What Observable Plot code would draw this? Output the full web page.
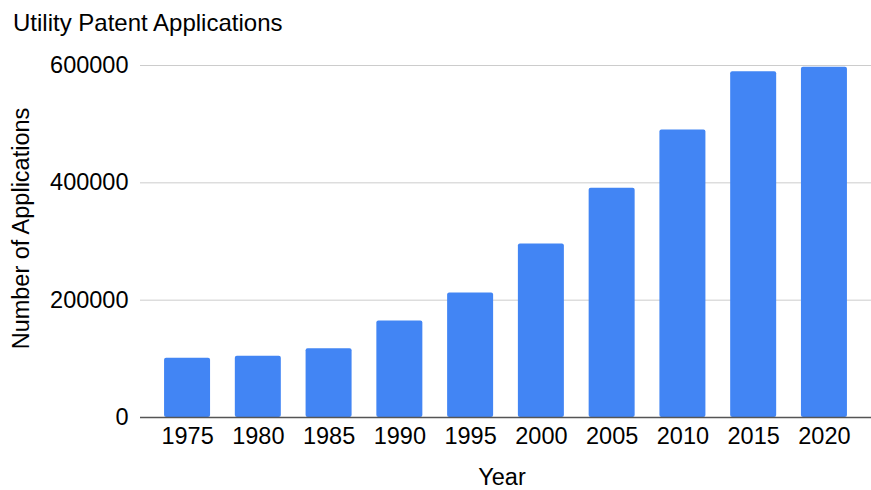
<!DOCTYPE html>
<html>
<head>
<meta charset="utf-8">
<script src="https://cdn.jsdelivr.net/npm/d3@7"></script>
<script src="https://cdn.jsdelivr.net/npm/@observablehq/plot@0.6"></script>
<style>
  body { margin: 0; background: #fff; }
  #wrap { position: relative; width: 871px; height: 490px; font-family: "Liberation Sans", Arial, sans-serif; }
  #title { position: absolute; left: 13px; top: 11px; font-size: 24px; line-height: 24px; color: #000; white-space: nowrap; }
</style>
</head>
<body>
<div id="wrap">
  <div id="title">Utility Patent Applications</div>
  <div id="chart"></div>
</div>
<script>
const years = ["1975", "1980", "1985", "1990", "1995", "2000", "2005", "2010", "2015", "2020"];
const applications = [101014, 104329, 117006, 164558, 212377, 295926, 390733, 490226, 589410, 597175];
const yTicks = [0, 200000, 400000, 600000];
const yTitle = ["Number of Applications"];
const xTitle = ["Year"];

const data = years.map((year, i) => ({year, value: applications[i]}));

const chart = Plot.plot({
  width: 871,
  height: 490,
  marginTop: 65,
  marginBottom: 73,
  marginLeft: 140,
  marginRight: 0,
  style: { fontFamily: '"Liberation Sans", Arial, sans-serif', fontSize: "23.5px", color: "#000", background: "#fff" },
  x: { domain: years, paddingInner: 0.35, paddingOuter: 0.34, align: 0.5, round: false, label: null },
  y: { domain: [0, 600000], label: null },
  marks: [
    Plot.ruleY(yTicks.filter(d => d > 0), { stroke: "#cccccc", strokeWidth: 1 }),
    Plot.barY(data, { x: "year", y: "value", fill: "#4285F4", rx: 2 }),
    Plot.ruleY([0], { stroke: "#555555", strokeWidth: 1.3 }),
    Plot.axisY({ ticks: yTicks, tickFormat: d => String(d), tickSize: 0, tickPadding: 12, label: null, fontSize: 23.5 }),
    Plot.axisX({ tickSize: 0, tickPadding: 10, label: null, fontSize: 23.5 }),
    Plot.text(yTitle, { text: d => d, frameAnchor: "left", rotate: -90, textAnchor: "middle", lineAnchor: "top", dx: -128, dy: -13, fontSize: 23.5, fill: "#000" }),
    Plot.text(xTitle, { text: d => d, frameAnchor: "bottom", textAnchor: "middle", lineAnchor: "bottom", dx: -4, dy: 67, fontSize: 23.5, fill: "#000" })
  ]
});
document.getElementById("chart").appendChild(chart);
</script>
</body>
</html>
